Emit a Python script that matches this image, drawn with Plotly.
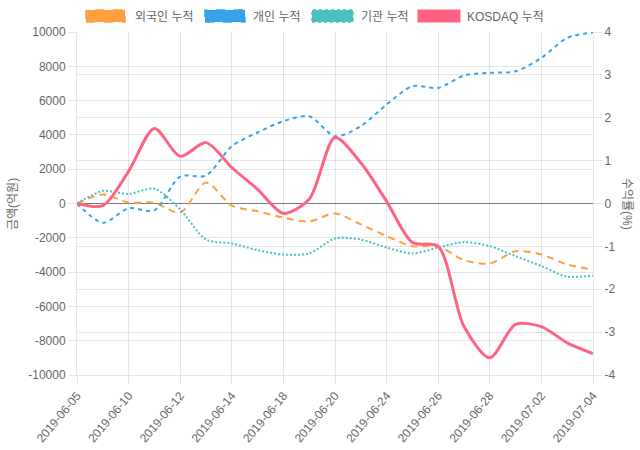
import plotly.graph_objects as go

dates = ["2019-06-05", "2019-06-07", "2019-06-10", "2019-06-11", "2019-06-12", "2019-06-13",
         "2019-06-14", "2019-06-17", "2019-06-18", "2019-06-19", "2019-06-20", "2019-06-21",
         "2019-06-24", "2019-06-25", "2019-06-26", "2019-06-27", "2019-06-28", "2019-07-01",
         "2019-07-02", "2019-07-03", "2019-07-04"]

foreign_cum = [0, 520, 60, 40, -530, 1220, -120, -450, -820, -1050, -580, -1220,
               -1900, -2490, -2500, -3300, -3500, -2780, -2970, -3560, -3850]
individual_cum = [0, -1120, -280, -400, 1570, 1630, 3340, 4140, 4800, 5090, 3920, 4510,
                  5770, 6840, 6740, 7460, 7620, 7710, 8490, 9660, 9970]
institution_cum = [0, 730, 560, 860, -350, -2100, -2330, -2720, -2970, -2910, -2040, -2100,
                   -2570, -2910, -2570, -2250, -2490, -3070, -3650, -4260, -4200]
kosdaq_cum = [0, -0.05, 0.75, 1.75, 1.10, 1.42, 0.84, 0.33, -0.23, 0.10, 1.54, 0.95,
              0.05, -0.91, -1.0, -2.87, -3.6, -2.82, -2.87, -3.25, -3.5]

names = ["외국인 누적", "개인 누적", "기관 누적", "KOSDAQ 누적"]
colors = ["rgb(255,159,64)", "rgb(54,162,235)", "rgb(75,192,192)", "rgb(255,99,132)"]

left_ticks = list(range(-10000, 10001, 2000))
right_ticks = list(range(-4, 5))

FONT = "Liberation Sans, Arial, Noto Sans CJK KR, sans-serif"
GRID = "rgba(0,0,0,0.1)"

fig = go.Figure()
fig.add_trace(go.Scatter(x=dates, y=foreign_cum, name=names[0], mode="lines",
                         line=dict(color=colors[0], width=2, dash="7px,5px", shape="spline", smoothing=0.8)))
fig.add_trace(go.Scatter(x=dates, y=individual_cum, name=names[1], mode="lines",
                         line=dict(color=colors[1], width=2, dash="4px,4px", shape="spline", smoothing=0.8)))
fig.add_trace(go.Scatter(x=dates, y=institution_cum, name=names[2], mode="lines",
                         line=dict(color=colors[2], width=2, dash="2px,2px", shape="spline", smoothing=0.8)))
fig.add_trace(go.Scatter(x=dates, y=kosdaq_cum, name=names[3], mode="lines", yaxis="y2",
                         line=dict(color=colors[3], width=3, shape="spline", smoothing=0.8)))

# plot area in pixels
L, R, T, B = 77, 593, 32, 375
W, H = R - L, B - T

def px(x):
    return (x - L) / W

def py(y):
    return (B - y) / H

shapes = []
annotations = []
legend_boxes = [(86, 125, 133), (205, 245, 251), (312, 353, 359), (418, 460, 465)]
box_dash = ["dash", "dash", "dot", "solid"]
for i, (x0, x1, tx) in enumerate(legend_boxes):
    shapes.append(dict(type="rect", xref="paper", yref="paper",
                       x0=px(x0), x1=px(x1), y0=py(22), y1=py(10),
                       fillcolor=colors[i],
                       line=dict(color=colors[i] if i < 3 else "rgba(255,99,132,0.6)", width=1.5, dash=box_dash[i])))
    annotations.append(dict(xref="paper", yref="paper", x=px(tx), y=py(16.5),
                            xanchor="left", yanchor="middle", showarrow=False,
                            text=names[i], font=dict(family=FONT, size=12, color="#666")))

annotations.append(dict(xref="paper", yref="paper", x=px(13), y=py(204), textangle=-90,
                        showarrow=False, text="금액(억원)", xanchor="center", yanchor="middle",
                        font=dict(family=FONT, size=12, color="#666")))
annotations.append(dict(xref="paper", yref="paper", x=px(627), y=py(204), textangle=90,
                        showarrow=False, text="수익률(%)", xanchor="center", yanchor="middle",
                        font=dict(family=FONT, size=12, color="#666")))

fig.update_layout(
    width=640, height=450,
    margin=dict(l=L, r=640 - R, t=T, b=450 - B, autoexpand=False),
    paper_bgcolor="white", plot_bgcolor="white",
    showlegend=False, hovermode=False,
    font=dict(family=FONT, size=12, color="#666"),
    shapes=shapes, annotations=annotations,
    xaxis=dict(type="category", tickmode="array", tickvals=dates[::2], ticktext=dates[::2],
               tickangle=-50, showgrid=True, gridcolor=GRID, gridwidth=1, automargin=False,
               ticks="outside", ticklen=8, tickcolor=GRID,
               showline=True, linecolor=GRID, mirror=False, zeroline=False,
               range=[0, len(dates) - 1], tickfont=dict(size=12, color="#666")),
    yaxis=dict(range=[-10000, 10000], tickmode="array", tickvals=left_ticks, automargin=False,
               ticktext=[str(v) for v in left_ticks], showgrid=True, gridcolor=GRID,
               ticks="outside", ticklen=8, tickcolor=GRID, showline=True, linecolor=GRID,
               zeroline=True, zerolinecolor="rgba(0,0,0,0.3)", zerolinewidth=1,
               tickfont=dict(size=12, color="#666")),
    yaxis2=dict(range=[-4, 4], overlaying="y", side="right", tickmode="array", automargin=False,
                tickvals=right_ticks, ticktext=[str(v) for v in right_ticks],
                showgrid=True, gridcolor=GRID, ticks="outside", ticklen=8, tickcolor=GRID,
                showline=True, linecolor=GRID, zeroline=True,
                zerolinecolor="rgba(0,0,0,0.3)", zerolinewidth=1,
                tickfont=dict(size=12, color="#666")),
)

fig.write_html("out.html", config={"displayModeBar": False},
               post_script="document.body.style.margin='0';")
